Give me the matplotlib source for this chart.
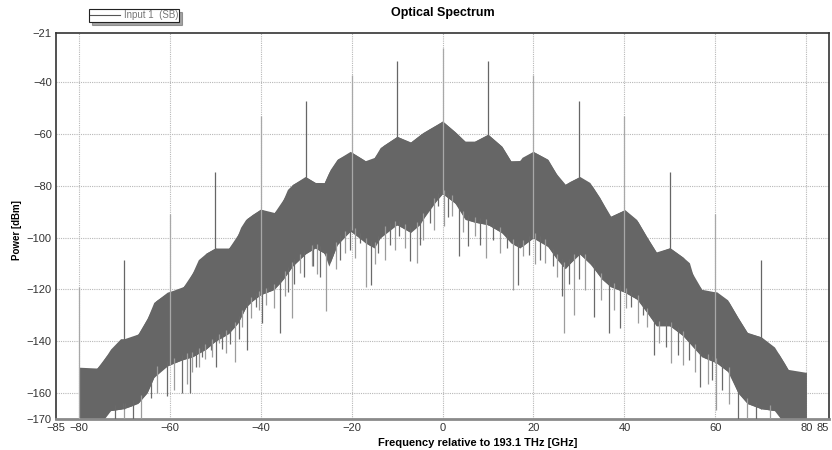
import matplotlib
matplotlib.use("Agg")
import matplotlib.pyplot as plt
from matplotlib.lines import Line2D
import numpy as np

plt.rcParams['font.family'] = ['Liberation Sans', 'DejaVu Sans']

# upper edge of the noise band (GHz, dBm)
top_f = [-80, -79, -77, -75.2, -73, -70.8, -68.6, -66.8, -64.9, -63.5, -60.5, -57.6,
         -56, -55, -53.7, -52, -50, -47.7, -45.5, -44.4, -43.3, -41.8, -40, -37.4,
         -35.7, -34.1, -33, -30.2, -28, -26.2, -24.7, -23.2, -20.3, -17.4, -15.9,
         -13.7, -10, -7.1, -4.3, -1.2, 0, 2.7, 4.9, 7.1, 10, 13.1, 15.9, 17.5, 19.9,
         23.2, 25.4, 26.9, 28, 30.2, 32.4, 34.6, 36.8, 40.1, 42.7, 44.9, 47.1, 50,
         52.8, 54.3, 55.4, 57.6, 60.3, 62.7, 64.9, 67.1, 70.1, 73, 75.2, 76.7, 78.5, 80]
top_db = [-150, -152, -152, -149, -143, -139, -139, -137, -131, -125, -121, -120,
          -117, -113.6, -108.5, -106, -104, -105.4, -101, -96, -93, -91, -89, -91,
          -88, -81.4, -79.5, -76.4, -78.7, -79.5, -73.7, -69.8, -66.7, -69.8, -71.7,
          -65.2, -60.9, -63.2, -59.4, -56.3, -55, -59, -62.8, -62.8, -60.1, -64.8,
          -72.9, -69, -66.7, -69.8, -76.4, -79.5, -78.3, -76.4, -78.7, -84.5, -91.9,
          -89.2, -93, -99.6, -105.8, -103.9, -107.4, -109.7, -116.3, -121.3, -120.9,
          -124, -130.6, -136.8, -138.3, -142.2, -148.4, -153, -153, -152]

# lower edge of the solid part of the band
low_f = [-80, -76, -74, -70, -67, -65, -63, -60, -57, -55, -52, -50, -47, -45, -43,
         -40, -37, -35, -33, -30, -28, -26, -25, -23, -20, -17, -15, -13, -10, -7,
         -5, -3, 0, 3, 5, 7, 10, 13, 15, 17, 20, 23, 25, 27, 30, 33, 35, 37, 40, 43,
         45, 47, 50, 53, 55, 57, 60, 63, 65, 67, 70, 74, 76, 80]
low_db = [-175, -175, -167, -166, -164, -160, -152, -149, -147, -146, -143, -140,
          -137, -133, -126, -122, -120, -116, -111, -106, -104, -106, -111, -102, -97,
          -102, -104, -98, -95, -98, -95, -89, -83, -87, -93, -94, -95, -98, -102,
          -104, -100, -103, -108, -112, -106, -111, -116, -119, -121, -124, -129,
          -134, -134, -138, -142, -146, -148, -152, -160, -164, -166, -167, -175, -175]

# downward dips below the band
dip_f = [-72, -70, -68, -66.4, -64.2, -62.7, -60.5, -59.1, -57.2, -56.1, -55.6, -55,
         -54.3, -53.6, -52.9, -52.2, -51, -50.7, -49.9, -49.2, -48.6, -47.7, -46.7,
         -45.7, -44.8, -44.1, -43, -42.2, -41.1, -40.3, -39.7, -38.9, -38.3, -37.1,
         -35.7, -34.6, -33.9, -33.1, -32.6, -31.3, -30.4, -28.7, -28.4, -27.6, -26.9,
         -25.6, -24.3, -23.4, -22.5, -21.5, -20.4, -19.2, -18.1, -16.8, -15.7, -14.9,
         -14.1, -12.6, -11.5, -10.4, -9.5, -8.3, -7.1, -5.7, -4.9, -4.2, -2.7, -1.8,
         -0.9, 0.4, 1.2, 2, 3.6, 4.6, 5.7, 7.1, 8.3, 9.5, 11.2, 12.7, 14.2, 15.5,
         16.5, 17.7, 19.1, 20.3, 21.4, 22.5, 24.3, 25.2, 26.2, 26.7, 27.8, 28.9,
         30.1, 31.3, 33.3, 34.8, 36.6, 37.8, 39, 40.3, 41.5, 43.1, 44.1, 45, 46.6,
         47.7, 49.2, 50.3, 51.9, 53, 54.3, 55.5, 56.7, 58.4, 59.3, 60.2, 61.4, 62.9,
         65, 67, 69, 72]
dip_db = [-172, -172, -172, -170, -162, -160, -161, -158.9, -160, -156.3, -160, -152,
          -149.8, -150, -146, -147, -143.4, -146, -149.8, -140.7, -143, -144.6, -141,
          -147.9, -139, -134.3, -143.4, -131, -126.6, -128, -132.9, -126, -120.1,
          -127, -136.8, -122.7, -121, -131, -118, -113.6, -115, -111.1, -111.1, -114,
          -115, -128.5, -107.2, -112, -108.5, -106, -104.7, -108, -102, -118.9,
          -118.2, -110, -105.8, -108.5, -103, -104.7, -99.5, -104, -109.2, -109.8,
          -103, -100.8, -94.2, -97, -87.9, -95.6, -92, -91.8, -107.2, -98, -103.4,
          -99.5, -103, -107.8, -100.8, -106, -104, -120.1, -118.2, -107.2, -106.6,
          -110, -108.5, -109.8, -111.1, -115, -122.7, -136.9, -118, -129.8, -116,
          -120.1, -130.5, -124, -136.9, -128, -135, -127, -126.6, -133, -130, -134.3,
          -145.3, -140.8, -142.1, -148.5, -145.3, -149.2, -147.2, -152, -157.6,
          -156.3, -155, -166.6, -158.9, -164.1, -172, -172, -172, -172]

# discrete carrier lines every 10 GHz
tone_f = [-80, -70, -60, -50, -40, -30, -20, -10, 0, 10, 20, 30, 40, 50, 60, 70]
tone_db = [-119, -108.5, -90.7, -74.5, -53, -47.2, -37.2, -31.8, -26.6, -31.8, -37.2,
           -47.2, -53, -74.5, -90.7, -108.7]

fig = plt.figure(figsize=(8.32, 4.5), dpi=100)
ax = fig.add_axes([56 / 832, 1 - 419 / 450, (829 - 56) / 832, (419 - 33) / 450])

band = '#666666'
ax.fill_between(top_f, top_db, np.interp(top_f, low_f, low_db), color=band, lw=0, zorder=2)
ax.fill_between(low_f, np.interp(low_f, top_f, top_db), low_db, color=band, lw=0, zorder=2)

dip_start = np.interp(dip_f, low_f, low_db) + 2
dip_col = ['#6a6a6a' if i % 2 == 0 else '#9c9c9c' for i in range(len(dip_f))]
ax.vlines(dip_f, dip_db, dip_start, colors=dip_col, lw=0.9, zorder=3)

tone_col = ['#a8a8a8' if f % 20 == 0 else '#666666' for f in tone_f]
tone_base = np.interp(tone_f, low_f, low_db)
ax.vlines(tone_f, tone_base, tone_db, colors=tone_col, lw=0.9, zorder=4)

ax.set_xlim(-85, 85)
ax.set_ylim(-170, -21)
ax.set_xticks([-85, -80, -60, -40, -20, 0, 20, 40, 60, 80, 85])
ax.set_yticks([-21, -40, -60, -80, -100, -120, -140, -160, -170])
ax.tick_params(length=0, labelsize=8, labelcolor='#333333', pad=3)
ax.get_xticklabels()[-1].set_ha('right')

for x in [-80, -60, -40, -20, 0, 20, 40, 60, 80]:
    ax.axvline(x, color='#b8b8b8', lw=0.8, ls=(0, (1, 1)), zorder=1)
for y in [-40, -60, -80, -100, -120, -140, -160]:
    ax.axhline(y, color='#b8b8b8', lw=0.8, ls=(0, (1, 1)), zorder=1)

for side in ['top', 'right', 'left']:
    ax.spines[side].set_color('#333333')
    ax.spines[side].set_linewidth(1.2)
ax.spines['bottom'].set_color('#8a8a8a')
ax.spines['bottom'].set_linewidth(2)

fig.text(443 / 832, 1 - 13 / 450, 'Optical Spectrum', ha='center', va='center',
         fontsize=9, fontweight='bold')
fig.text(478 / 832, 1 - 443 / 450, 'Frequency relative to 193.1 THz [GHz]',
         ha='center', va='center', fontsize=8, fontweight='bold')
fig.text(17 / 832, 1 - 230 / 450, 'Power [dBm]', ha='center', va='center',
         rotation=90, fontsize=7, fontweight='bold')

handle = Line2D([], [], color='#555555', lw=0.8)
leg = fig.legend([handle], ['Input 1  (SB)'], loc='upper left',
                 bbox_to_anchor=(89 / 832, 1 - 9 / 450), fontsize=7, frameon=True,
                 fancybox=False, shadow=True, edgecolor='#222222', framealpha=1,
                 handlelength=3, borderpad=0.15, handletextpad=0.4, borderaxespad=0)
for t in leg.get_texts():
    t.set_color('#777777')
leg.get_frame().set_linewidth(0.8)

fig.savefig('out.png', dpi=100)
